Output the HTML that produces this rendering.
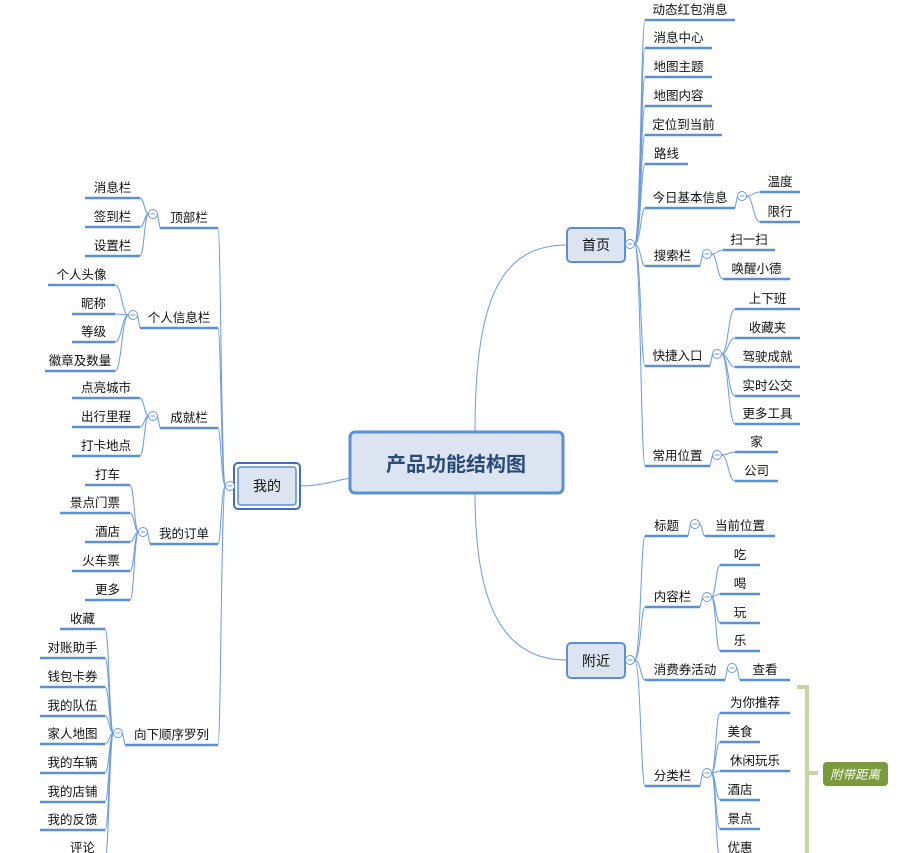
<!DOCTYPE html>
<html><head><meta charset="utf-8"><style>
html,body{margin:0;padding:0;background:#fff;width:910px;height:853px;overflow:hidden}
svg{display:block}
text{font-family:"Liberation Sans","Noto Sans CJK SC",sans-serif;font-size:12.5px;fill:#111}
</style></head><body>
<svg id="s" width="910" height="853" xmlns="http://www.w3.org/2000/svg">
<path d="M475,432 C475,300 500,245 567,245" fill="none" stroke="#6b9be0" stroke-width="1"/>
<path d="M475,493 C475,600 500,660 567,660" fill="none" stroke="#6b9be0" stroke-width="1"/>
<path d="M350,478 C330,482 320,486 298,486" fill="none" stroke="#6b9be0" stroke-width="1"/>
<rect x="350" y="432" width="213" height="61" rx="5" fill="#dbe4f0" stroke="#5b8fd6" stroke-width="3"/>
<text x="456" y="471" text-anchor="middle" style="font-size:20px;font-weight:bold;fill:#2a4a7a">产品功能结构图</text>
<rect x="567" y="228" width="58" height="34" rx="4" fill="#dbe4f0" stroke="#5b8fd6" stroke-width="2"/>
<text x="596" y="250" text-anchor="middle" style="font-size:14px">首页</text>
<rect x="567" y="643" width="58" height="35" rx="4" fill="#dbe4f0" stroke="#5b8fd6" stroke-width="2"/>
<text x="596" y="666" text-anchor="middle" style="font-size:14px">附近</text>
<rect x="234" y="463" width="66" height="46" rx="4" fill="#fff" stroke="#3f6fc0" stroke-width="2"/>
<rect x="238" y="467" width="58" height="38" rx="3" fill="#dbe4f0" stroke="#5b8fd6" stroke-width="1.5"/>
<text x="267" y="491" text-anchor="middle" style="font-size:14px">我的</text>
<path d="M797,687 H807 V853 M807,773 H818" fill="none" stroke="#c5d6a0" stroke-width="4"/>
<rect x="823" y="762" width="65" height="24" rx="4" fill="#7a9a3c"/>
<text x="855" y="779" text-anchor="middle" style="fill:#fff;font-style:italic">附带距离</text>
<g id="g"></g>
</svg>
<script>
var g=document.getElementById('g'),h='';
function ul(x1,x2,y,t){h+='<line x1="'+x1+'" y1="'+y+'" x2="'+x2+'" y2="'+y+'" stroke="#5b8fd6" stroke-width="2.5"/>';h+='<text x="'+((x1+x2)/2)+'" y="'+(y-6)+'" text-anchor="middle">'+t+'</text>';}
function cv(x1,y1,x2,y2,f){var xv=x1+(x2-x1)*(f||0.35);h+='<path d="M'+x1+','+y1+' C'+xv+','+y1+' '+xv+','+y2+' '+x2+','+y2+'" fill="none" stroke="#6b9be0" stroke-width="1"/>';}
function ci(x,y){h+='<circle cx="'+x+'" cy="'+y+'" r="4.5" fill="#fff" stroke="#6b9be0"/><line x1="'+(x-2.5)+'" y1="'+y+'" x2="'+(x+2.5)+'" y2="'+y+'" stroke="#6b9be0"/>';}
function R(px,py,items){ci(px,py);items.forEach(function(it){cv(px+4.5,py,it[0],it[2],0.6);ul(it[0],it[1],it[2],it[3]);if(it[4]){var s=it[4];var cx=it[1]+7,cy=s.cy||it[2];ci(cx,cy);h+='<line x1="'+it[1]+'" y1="'+it[2]+'" x2="'+(cx-4.5)+'" y2="'+cy+'" stroke="#6b9be0"/>';s.c.forEach(function(c){cv(cx+4.5,cy,c[0],c[2],0.5);ul(c[0],c[1],c[2],c[3]);});}});}
function L(px,py,items){ci(px,py);items.forEach(function(it){cv(px-4.5,py,it[1],it[2],0.6);ul(it[0],it[1],it[2],it[3]);if(it[4]){var s=it[4];var cx=it[0]-7,cy=s.cy||it[2];ci(cx,cy);h+='<line x1="'+it[0]+'" y1="'+it[2]+'" x2="'+(cx+4.5)+'" y2="'+cy+'" stroke="#6b9be0"/>';s.c.forEach(function(c){cv(cx-4.5,cy,c[1],c[2],0.5);ul(c[0],c[1],c[2],c[3]);});}});}
R(630,244,[[645,735,20,'动态红包消息'],[645,712,48,'消息中心'],[645,712,77,'地图主题'],[645,712,106,'地图内容'],[645,722,135,'定位到当前'],[645,688,164,'路线'],
[645,735,208,'今日基本信息',{cy:196,c:[[760,800,192,'温度'],[760,800,222,'限行']]}],
[645,700,266,'搜索栏',{cy:254,c:[[723,775,250,'扫一扫'],[723,790,279,'唤醒小德']]}],
[645,710,366,'快捷入口',{cy:354,c:[[735,800,309,'上下班'],[735,800,338,'收藏夹'],[735,800,367,'驾驶成就'],[735,800,396,'实时公交'],[735,800,424,'更多工具']]}],
[645,710,466,'常用位置',{cy:455,c:[[735,778,452,'家'],[735,778,481,'公司']]}]]);
R(630,660,[[645,688,536,'标题',{cy:524,c:[[705,775,536,'当前位置']]}],
[645,700,607,'内容栏',{cy:597,c:[[720,760,565,'吃'],[720,760,594,'喝'],[720,760,623,'玩'],[720,760,651,'乐']]}],
[645,725,680,'消费券活动',{cy:668,c:[[740,790,680,'查看']]}],
[645,700,786,'分类栏',{cy:773,c:[[720,790,713,'为你推荐'],[720,760,742,'美食'],[720,790,771,'休闲玩乐'],[720,760,800,'酒店'],[720,760,829,'景点'],[720,760,858,'优惠']]}]]);
L(230,486,[[160,218,228,'顶部栏',{cy:214,c:[[85,140,198,'消息栏'],[85,140,227,'签到栏'],[85,140,256,'设置栏']]}],
[140,218,328,'个人信息栏',{cy:315,c:[[48,115,285,'个人头像'],[72,115,314,'昵称'],[72,115,342,'等级'],[45,115,371,'徽章及数量']]}],
[160,218,428,'成就栏',{cy:416,c:[[72,140,398,'点亮城市'],[72,140,427,'出行里程'],[72,140,456,'打卡地点']]}],
[150,218,544,'我的订单',{cy:532,c:[[85,130,485,'打车'],[60,130,513,'景点门票'],[85,130,542,'酒店'],[72,130,571,'火车票'],[85,130,600,'更多']]}],
[125,218,745,'向下顺序罗列',{cy:733,c:[[60,105,629,'收藏'],[40,105,658,'对账助手'],[40,105,687,'钱包卡券'],[40,105,716,'我的队伍'],[40,105,744,'家人地图'],[40,105,773,'我的车辆'],[40,105,802,'我的店铺'],[40,105,830,'我的反馈'],[60,105,858,'评论']]}]]);
g.innerHTML=h;
</script>
</body></html>
